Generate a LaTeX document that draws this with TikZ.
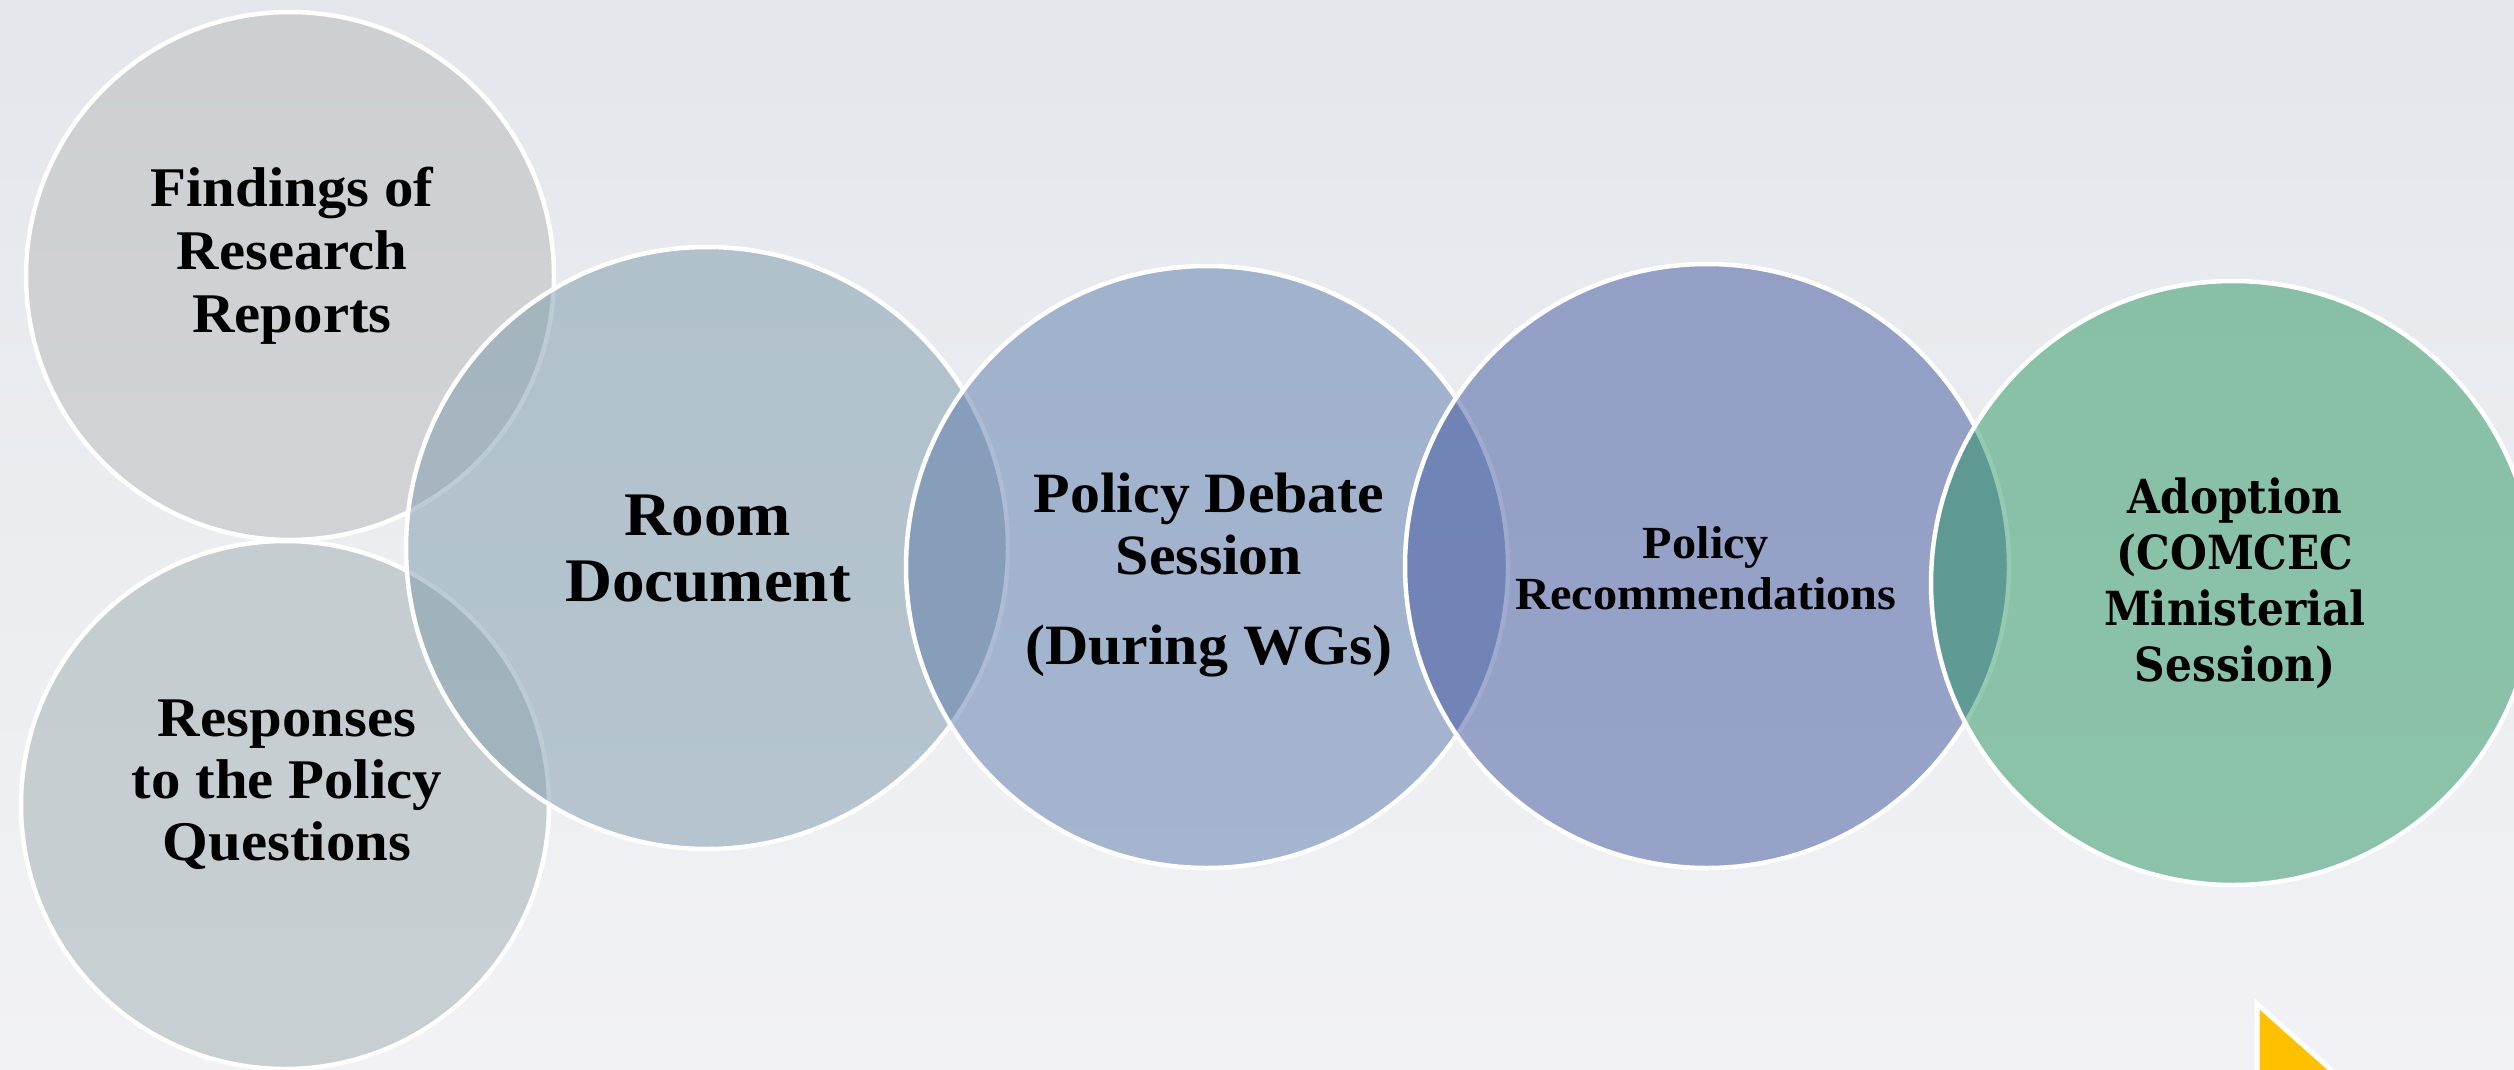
\documentclass[tikz,border=0pt]{standalone}
\usepackage{fontspec}
\newfontfamily\mainf[FakeStretch=1.05]{Liberation Serif}
\newfontfamily\adopf[FakeStretch=0.9]{DejaVu Serif}
\definecolor{bgtop}{HTML}{E3E7EB}
\definecolor{bgbot}{HTML}{F2F2F6}
\definecolor{cfind}{RGB}{184,186,188}
\definecolor{cresp}{RGB}{160,174,178}
\definecolor{croom}{RGB}{125,154,170}
\definecolor{cdeb}{RGB}{92,123,171}
\definecolor{crec}{RGB}{64,86,158}
\definecolor{cadop}{RGB}{42,150,98}
\definecolor{triyellow}{HTML}{FFC000}
\tikzset{
  circ/.style={circle, draw=white, line width=4.5pt, inner sep=0pt, fill opacity=0.5, draw opacity=1},
  txt/.style={align=center, text=black, inner sep=0pt}
}
\begin{document}
\begin{tikzpicture}[x=1pt,y=-1pt]
\useasboundingbox (0,0) rectangle (2514,1070);
\begin{scope}
\clip (0,0) rectangle (2514,1070);
\shade[top color=bgtop, bottom color=bgbot] (0,0) rectangle (2514,1070);
\node[circ, fill=cfind, minimum size=528pt] (find) at (290,276) {};
\node[circ, fill=cresp, minimum size=528pt] (resp) at (285,805) {};
\node[circ, fill=croom, minimum size=602pt] (room) at (707,548) {};
\node[circ, fill=cdeb, minimum size=602pt] (deb) at (1207,567) {};
\node[circ, fill=crec, minimum size=604pt] (rec) at (1707,566) {};
\node[circ, fill=cadop, minimum size=604pt] (adop) at (2233,583) {};
\draw[white, line width=5pt, fill=triyellow] (2257,1004) -- (2345,1082) -- (2257,1082) -- cycle;
\end{scope}
\node[txt, font={\mainf\bfseries\fontsize{56}{63}\selectfont}] (tfind) at (292,256) {Findings of\\Research\\Reports};
\node[txt, font={\mainf\bfseries\fontsize{56}{62}\selectfont}] (tresp) at (287,785) {Responses\\to the Policy\\Questions};
\node[txt, font={\mainf\bfseries\fontsize{62}{66}\selectfont}] (troom) at (708,549) {Room\\Document};
\node[txt, font={\mainf\bfseries\fontsize{57}{62}\selectfont}] (tdeb) at (1209,575) {Policy Debate\\Session\\[28pt](During WGs)};
\node[txt, font={\mainf\bfseries\fontsize{46}{51}\selectfont}] (trec) at (1706,568) {Policy\\Recommendations};
\node[txt, font={\adopf\bfseries\fontsize{47}{56}\selectfont}] (tadop) at (2235,583) {Adoption\\(COMCEC\\Ministerial\\Session)};
\end{tikzpicture}
\end{document}
